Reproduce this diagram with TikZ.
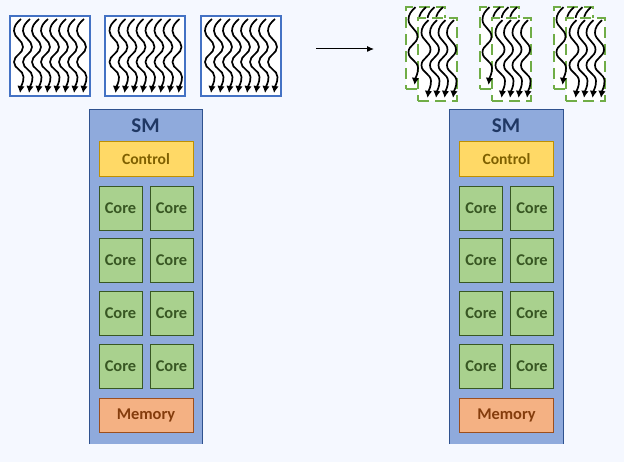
\documentclass[tikz,border=0pt]{standalone}
\usepackage{xcolor}
\usepackage{fontspec}
\setmainfont{Carlito}
\usepackage{tikz}
\usetikzlibrary{arrows.meta}

\definecolor{pagebg}{HTML}{F5F8FF}
\definecolor{smfill}{HTML}{8FAADC}
\definecolor{smline}{HTML}{2F528F}
\definecolor{smtext}{HTML}{203864}
\definecolor{ctrlfill}{HTML}{FFD966}
\definecolor{ctrlline}{HTML}{BF9000}
\definecolor{ctrltext}{HTML}{7F6000}
\definecolor{corefill}{HTML}{A9D18E}
\definecolor{coreline}{HTML}{385723}
\definecolor{memfill}{HTML}{F4B183}
\definecolor{memline}{HTML}{9C4F1E}
\definecolor{memtext}{HTML}{843C0C}
\definecolor{boxline}{HTML}{4472C4}
\definecolor{splitline}{HTML}{70AD47}

\tikzset{
    smbox/.style = {fill = smfill, minimum width = 113pt, minimum height = 334pt, inner sep = 0pt},
    ctrlbox/.style = {draw = ctrlline, fill = ctrlfill, line width = 1pt, minimum width = 94pt, minimum height = 35pt,
        inner sep = 0pt, text = ctrltext, font = \bfseries\fontsize{15.6}{16}\selectfont},
    corebox/.style = {draw = coreline, fill = corefill, line width = 1pt, minimum width = 43pt, minimum height = 44pt,
        inner sep = 0pt, text = coreline, font = \bfseries\fontsize{16.4}{17}\selectfont},
    membox/.style = {draw = memline, fill = memfill, line width = 1pt, minimum width = 94pt, minimum height = 34pt,
        inner sep = 0pt, text = memtext, font = \bfseries\fontsize{16.4}{17}\selectfont},
    workbox/.style = {draw = boxline, fill = white, line width = 2pt, minimum width = 80pt, minimum height = 80pt, inner sep = 0pt},
    splitbox/.style = {draw = splitline, fill = white, line width = 1.8pt, dash pattern = on 11pt off 6pt, inner sep = 0pt},
    wavy/.pic = {
        \draw[line width = 1.7pt, -{Latex[length = 7pt, width = 7.5pt]}]
            (11.5, 3) .. controls (7, 7) and (4.5, 10) .. (4.5, 15)
            .. controls (4.5, 22) and (13.5, 24) .. (13.5, 31)
            .. controls (13.5, 38) and (4.5, 39) .. (4.5, 46)
            .. controls (4.5, 53) and (14, 54) .. (14, 61)
            .. controls (14, 67) and (11.5, 70) .. (10.5, 77);
    }
}

\begin{document}
\begin{tikzpicture}[x = 1pt, y = -1pt]
    \fill[pagebg] (0, 0) rectangle (624, 462);
    \useasboundingbox (0, 0) rectangle (624, 462);

    % threads before
    \foreach \xa/\name in {9.5/a, 105/b, 200.5/c} {
        \node[workbox] (work\name) at (\xa + 40, 56) {};
        \foreach \i in {0, ..., 7}
            \pic at (\xa + 9 * \i, 16) {wavy};
    }

    % threads after
    \foreach \xa/\name in {0/a, 74/b, 148/c} {
        \node[splitbox, minimum width = 39pt, minimum height = 82pt] (splitl\name) at (\xa + 425.5, 48) {};
        \foreach \i in {1, 2, 3}
            \pic[yscale = 1.05] at (\xa + 406 + 8.5 * \i, 4) {wavy};
        \node[splitbox, minimum width = 39pt, minimum height = 83pt] (splitr\name) at (\xa + 437.5, 59.5) {};
        \pic[yscale = 1.05] at (\xa + 404, 4) {wavy};
        \foreach \i in {0, 1, 2, 3}
            \pic[yscale = 1.05] at (\xa + 417 + 8.5 * \i, 17) {wavy};
    }

    \coordinate (arrowstart) at (316, 49);
    \coordinate (arrowend) at (374, 49);
    \draw[line width = 1pt, -{Latex[length = 7pt, width = 6pt]}] (arrowstart) -- (arrowend);

    % the two SMs
    \foreach \dx/\name in {0/l, 360.5/r} {
        \node[smbox] (sm\name) at (\dx + 146, 277) {};
        \draw[smline, line width = 1.2pt] (sm\name.south west) -- (sm\name.north west) -- (sm\name.north east) -- (sm\name.south east);
        \node[text = smtext, font = \bfseries\fontsize{21}{21}\selectfont] (smtitle\name) at (\dx + 145.5, 126) {SM};
        \node[ctrlbox] (ctrl\name) at (\dx + 146, 159.5) {Control};
        \foreach \yc/\row in {208.5/a, 260.5/b, 313.5/c, 366.5/d} {
            \node[corebox] (core\name\row1) at (\dx + 120.5, \yc) {Core};
            \node[corebox] (core\name\row2) at (\dx + 171.5, \yc) {Core};
        }
        \node[membox] (mem\name) at (\dx + 146, 415) {Memory};
    }
\end{tikzpicture}
\end{document}
